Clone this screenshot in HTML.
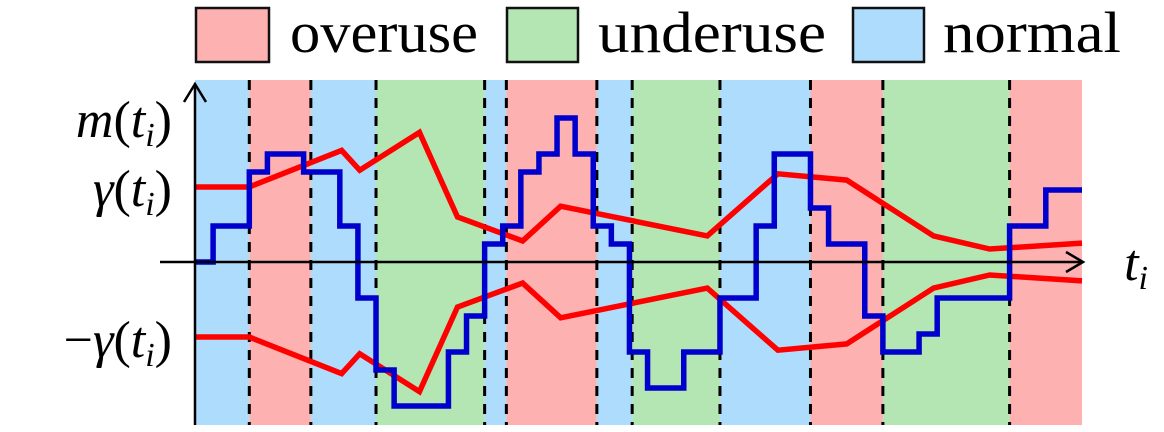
<!DOCTYPE html>
<html><head><meta charset="utf-8"><style>
html,body{margin:0;padding:0;background:#fff;width:1164px;height:432px;overflow:hidden}
svg text{font-family:"Liberation Serif",serif}
</style></head><body>
<svg id="chart" width="1164" height="432" viewBox="0 0 1164 432" xmlns="http://www.w3.org/2000/svg">
<g id="legend">
  <g><rect x="196" y="8" width="73" height="54" fill="#fdb1b1" stroke="#111" stroke-width="2.5"/><text x="290" y="52" font-size="58" textLength="188" lengthAdjust="spacingAndGlyphs">overuse</text></g>
  <g><rect x="507" y="8" width="71" height="54" fill="#b3e6b3" stroke="#111" stroke-width="2.5"/><text x="598" y="52" font-size="58" textLength="228" lengthAdjust="spacingAndGlyphs">underuse</text></g>
  <g><rect x="853" y="8" width="71" height="54" fill="#addcfc" stroke="#111" stroke-width="2.5"/><text x="943" y="52" font-size="58" textLength="178" lengthAdjust="spacingAndGlyphs">normal</text></g>
</g>
<g id="regions"></g><g id="dashes"></g><g id="series"></g>
<g>
  <line x1="195" y1="425" x2="195" y2="84" stroke="#000" stroke-width="2.5"/>
  <polyline points="184,102 195,84 206,102" fill="none" stroke="#000" stroke-width="2.5"/>
  <line x1="160" y1="262" x2="1082" y2="262" stroke="#000" stroke-width="2.5"/>
  <polyline points="1066,252 1083,262 1066,272" fill="none" stroke="#000" stroke-width="2.5"/>
</g>
<g font-style="italic" font-size="52" text-anchor="end">
  <text x="172" y="137">m<tspan font-style="normal">(</tspan>t<tspan font-size="34" dy="9">i</tspan><tspan dy="-9" font-style="normal">)</tspan></text>
  <text x="172" y="206">γ<tspan font-style="normal">(</tspan>t<tspan font-size="34" dy="9">i</tspan><tspan dy="-9" font-style="normal">)</tspan></text>
  <text x="172" y="357"><tspan font-style="normal">−</tspan>γ<tspan font-style="normal">(</tspan>t<tspan font-size="34" dy="9">i</tspan><tspan dy="-9" font-style="normal">)</tspan></text>
  <text x="1148" y="280">t<tspan font-size="34" dy="9">i</tspan></text>
</g>
</svg>
<script>
const regionBounds=[0,3,6.4,10,16,17.2,22.2,24.15,29,34,38,45,49];
const regionTypes=["normal","overuse","normal","underuse","normal","overuse","normal","underuse","normal","overuse","underuse","overuse"];
const stepTimes=[0,1,3,4,6,8,9,10,11,14,15,16,17,18,19,20,21,22,23,24,25,27,29,31,32,34,35,37,38,40,41,45,47];
const stepLevels=[0,2,5,6,5,2,-2,-6,-8,-5,-3,1,2,5,6,8,6,2,1,-5,-7,-5,-2,2,6,3,1,-3,-5,-4,-2,2,4];
const gammaTimes=[0,3,8.1,9.1,12.4,14.5,18.1,20.2,28.3,32.2,36,40.8,43.9,49];
const gammaValues=[4.17,4.17,6.2,5.1,7.2,2.5,1.17,3.1,1.45,4.9,4.55,1.45,0.72,1.05];
const tMax=49;
const X=t=>195+t*(887/tMax);
const Y=v=>262-v*18;
const colors={overuse:"#fdb1b1",underuse:"#b3e6b3",normal:"#addcfc"};
const NS="http://www.w3.org/2000/svg";
const rg=document.getElementById('regions'),dg=document.getElementById('dashes'),sg=document.getElementById('series');
for(let i=0;i<regionTypes.length;i++){
  const r=document.createElementNS(NS,'rect');
  
  
  r.setAttribute('x',X(regionBounds[i]));r.setAttribute('y',80);
  r.setAttribute('width',X(regionBounds[i+1])-X(regionBounds[i]));r.setAttribute('height',345);
  r.setAttribute('fill',colors[regionTypes[i]]);rg.appendChild(r);
}
for(let i=1;i<regionBounds.length-1;i++){
  const l=document.createElementNS(NS,'line');
  
  
  l.setAttribute('x1',X(regionBounds[i]));l.setAttribute('x2',X(regionBounds[i]));
  l.setAttribute('y1',80);l.setAttribute('y2',425);
  l.setAttribute('stroke','#000');l.setAttribute('stroke-width','3');l.setAttribute('stroke-dasharray','10 8');
  dg.appendChild(l);
}
let pts=[];
for(let i=0;i<stepTimes.length;i++){
  const t1=i+1<stepTimes.length?stepTimes[i+1]:tMax;
  pts.push(X(stepTimes[i])+','+Y(stepLevels[i]));pts.push(X(t1)+','+Y(stepLevels[i]));
}
const up=gammaTimes.map((t,i)=>X(t)+','+Y(gammaValues[i])).join(' ');
const lo=gammaTimes.map((t,i)=>X(t)+','+Y(-gammaValues[i])).join(' ');
[['gamma-upper-line',up,'#f00'],['gamma-lower-line',lo,'#f00'],['m-step-line',pts.join(' '),'#0000cc']].forEach(([n,p,c])=>{
  const pl=document.createElementNS(NS,'polyline');
  
  
  pl.setAttribute('points',p);pl.setAttribute('fill','none');pl.setAttribute('stroke',c);
  pl.setAttribute('stroke-width','5.5');sg.appendChild(pl);
});
</script>
</body></html>
